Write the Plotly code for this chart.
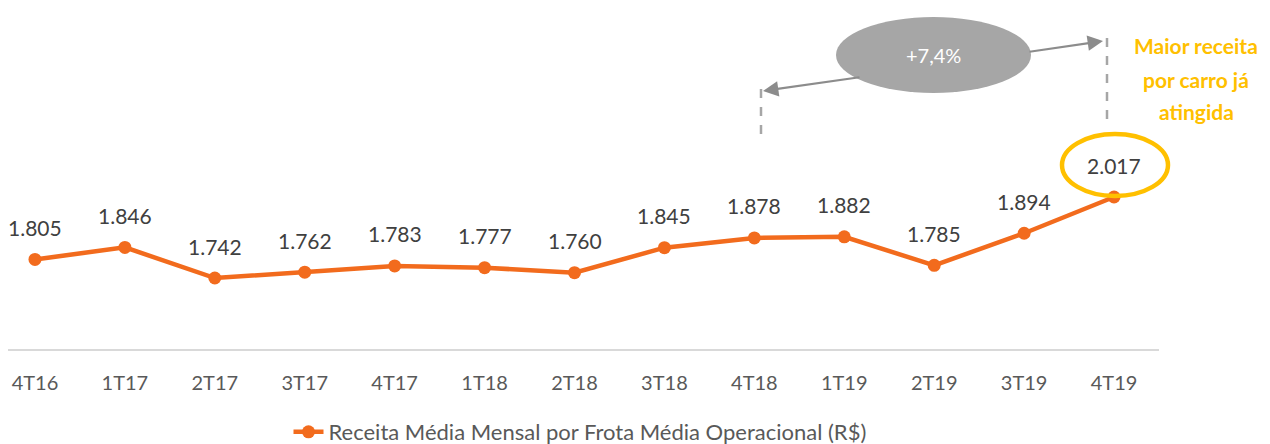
import plotly.graph_objects as go

categories = ["4T16", "1T17", "2T17", "3T17", "4T17", "1T18", "2T18",
              "3T18", "4T18", "1T19", "2T19", "3T19", "4T19"]
values = [1805, 1846, 1742, 1762, 1783, 1777, 1760, 1845, 1878, 1882, 1785, 1894, 2017]
labels = ["1.805", "1.846", "1.742", "1.762", "1.783", "1.777", "1.760",
          "1.845", "1.878", "1.882", "1.785", "1.894", "2.017"]
series_name = "Receita Média Mensal por Frota Média Operacional (R$)"
growth_label = "+7,4%"
callout_lines = ["Maior receita", "por carro já", "atingida"]

# page has an 8px body margin: figure is 8px smaller, coordinates shifted
OFF = 8
W, H = 1270 - OFF, 444 - OFF
ML, MR, MT, MB = 0, 111, 12, 95
PW, PH = W - ML - MR, H - MT - MB

def px(x):  # screen pixel -> paper
    return (x - OFF - ML) / PW

def py(y):
    return 1 - (y - OFF - MT) / PH

ORANGE = "#F26B1D"
GRAY = "#A6A6A6"
ARROW = "#8C8C8C"
YELLOW = "#FFC000"
TXT = "#404040"
TICK = "#595959"
FONT = "Lato"

fig = go.Figure()
fig.add_trace(go.Scatter(
    x=list(range(len(categories))), y=values, mode="lines+markers",
    name=series_name,
    line=dict(color=ORANGE, width=4.5),
    marker=dict(color=ORANGE, size=13),
    cliponaxis=False,
))

annotations = []
for i, (v, t) in enumerate(zip(values, labels)):
    annotations.append(dict(x=i, y=v, text=t, showarrow=False, yshift=32,
                            xanchor="center", yanchor="middle",
                            font=dict(family=FONT, size=21, color=TXT)))

annotations.append(dict(xref="paper", yref="paper", x=px(933), y=py(55),
                        text=growth_label, showarrow=False,
                        xanchor="center", yanchor="middle",
                        font=dict(family=FONT, size=20, color="white")))
for k, line in enumerate(callout_lines):
    annotations.append(dict(xref="paper", yref="paper", x=px(1196), y=py(46 + 33 * k),
                            text=line, showarrow=False,
                            xanchor="center", yanchor="middle",
                            font=dict(family=FONT, size=21, color=YELLOW, weight="bold")))
annotations.append(dict(xref="paper", yref="paper",
                        x=px(763), y=py(91), ax=98, ay=-14,
                        showarrow=True, arrowhead=2, arrowsize=1.4, arrowwidth=2.2,
                        arrowcolor=ARROW, text=""))
annotations.append(dict(xref="paper", yref="paper",
                        x=px(1103), y=py(41), ax=-75, ay=11,
                        showarrow=True, arrowhead=2, arrowsize=1.4, arrowwidth=2.2,
                        arrowcolor=ARROW, text=""))

shapes = [
    dict(type="circle", xref="paper", yref="paper",
         x0=px(836), x1=px(1031), y0=py(93), y1=py(17),
         fillcolor=GRAY, line=dict(width=0), layer="below"),
    dict(type="line", xref="paper", yref="paper",
         x0=px(761), x1=px(761), y0=py(89), y1=py(135),
         line=dict(color=GRAY, width=2.5, dash="dash")),
    dict(type="line", xref="paper", yref="paper",
         x0=px(1107), x1=px(1107), y0=py(38), y1=py(123),
         line=dict(color=GRAY, width=2.5, dash="dash")),
    dict(type="circle", xref="paper", yref="paper",
         x0=px(1062), x1=px(1168), y0=py(196), y1=py(134),
         fillcolor="rgba(0,0,0,0)", line=dict(color=YELLOW, width=4.5), layer="above"),
]

fig.update_layout(
    width=W, height=H,
    margin=dict(l=ML, r=MR, t=MT, b=MB),
    paper_bgcolor="white", plot_bgcolor="white",
    font=dict(family=FONT, color=TXT),
    showlegend=True,
    legend=dict(orientation="h", xanchor="center", x=px(580),
                yref="container", yanchor="middle", y=1 - (432 - OFF) / H,
                font=dict(family=FONT, size=22, color=TICK)),
    annotations=annotations,
    shapes=shapes,
)
fig.update_xaxes(
    tickmode="array", tickvals=list(range(len(categories))), ticktext=categories,
    range=[-(35 - OFF) / 90, 12.5], showgrid=False, zeroline=False,
    showline=True, linecolor="#D9D9D9", linewidth=1.5,
    ticks="outside", ticklen=15, tickcolor="rgba(0,0,0,0)",
    tickfont=dict(family=FONT, size=20, color=TICK),
)
fig.update_yaxes(range=[1501, 2618], visible=False, showgrid=False, zeroline=False)

fig.write_html("out.html")
